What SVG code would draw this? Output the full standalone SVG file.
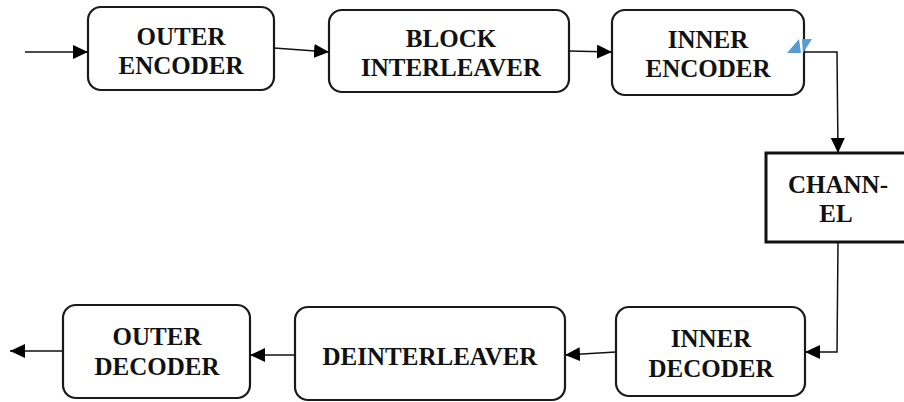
<svg xmlns="http://www.w3.org/2000/svg" width="904" height="402" viewBox="0 0 904 402">
<style>
.box{fill:#fff;stroke:#1a1a1a;stroke-width:2.2}
.ch{fill:#fff;stroke:#111;stroke-width:3}
.lbl{font-family:"Liberation Serif","Times New Roman",serif;font-weight:bold;font-size:25px;fill:#111;text-anchor:middle}
.ln{fill:none;stroke:#111;stroke-width:1.5}
</style>
<defs>
<marker id="ah" markerUnits="userSpaceOnUse" markerWidth="16" markerHeight="14" refX="15" refY="7" orient="auto">
<path d="M0,0 L15,7 L0,14 Z" fill="#000"/>
</marker>
</defs>
<g id="outer-encoder">
<rect class="box" x="88" y="7" width="186" height="83" rx="13"/>
<text class="lbl" x="181" y="45">OUTER</text>
<text class="lbl" x="181" y="74">ENCODER</text>
</g>
<g id="block-interleaver">
<rect class="box" x="329" y="10" width="240" height="82" rx="13"/>
<text class="lbl" x="451" y="47">BLOCK</text>
<text class="lbl" x="451" y="76">INTERLEAVER</text>
</g>
<g id="inner-encoder">
<rect class="box" x="612" y="10" width="192" height="85" rx="13"/>
<text class="lbl" x="708" y="48">INNER</text>
<text class="lbl" x="708" y="77">ENCODER</text>
</g>
<g id="channel">
<rect class="ch" x="766" y="153" width="142" height="89"/>
<text class="lbl" x="838" y="193">CHANN-</text>
<text class="lbl" x="836" y="222">EL</text>
</g>
<g id="inner-decoder">
<rect class="box" x="616" y="307" width="189" height="89" rx="13"/>
<text class="lbl" x="711" y="347">INNER</text>
<text class="lbl" x="711" y="377">DECODER</text>
</g>
<g id="deinterleaver">
<rect class="box" x="295" y="307" width="270" height="93" rx="13"/>
<text class="lbl" x="430" y="365">DEINTERLEAVER</text>
</g>
<g id="outer-decoder">
<rect class="box" x="63" y="305" width="187" height="93" rx="13"/>
<text class="lbl" x="157" y="345">OUTER</text>
<text class="lbl" x="157" y="375">DECODER</text>
</g>
<g id="connectors">
<line class="ln" x1="25" y1="52" x2="88" y2="52" marker-end="url(#ah)"/>
<line class="ln" x1="274" y1="48" x2="329" y2="52" marker-end="url(#ah)"/>
<line class="ln" x1="569" y1="51" x2="612" y2="52" marker-end="url(#ah)"/>
<polyline class="ln" points="804,52 837,52 838,153" marker-end="url(#ah)"/>
<polyline class="ln" points="838,242 837,352 805,352" marker-end="url(#ah)"/>
<line class="ln" x1="616" y1="352" x2="565" y2="355" marker-end="url(#ah)"/>
<line class="ln" x1="295" y1="355" x2="250" y2="355" marker-end="url(#ah)"/>
<line class="ln" x1="63" y1="351" x2="10" y2="351" marker-end="url(#ah)"/>
<path d="M787,53 L799,39 L801,53 Z M802,39 L812,39 L803,53 Z" fill="#5b9bd5"/>
</g>
</svg>
